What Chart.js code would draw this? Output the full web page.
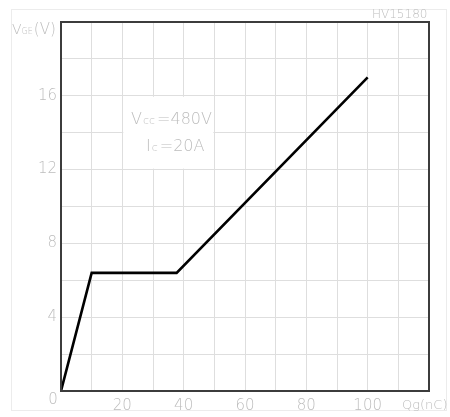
<!DOCTYPE html>
<html>
<head>
<meta charset="utf-8">
<script src="https://cdn.jsdelivr.net/npm/chart.js@4"></script>
<style>
  html, body { margin: 0; padding: 0; background: #ffffff; }
  #wrap { width: 450px; height: 417px; }
</style>
</head>
<body>
<div id="wrap"><canvas id="c" width="450" height="417"></canvas></div>
<script>
// Gate charge curve: gate-emitter voltage vs. gate charge
const gateCharge = [0, 10, 37.7, 100];      // Qg (nC)
const gateVoltage = [0, 6.4, 6.4, 17];      // VGE (V)
const xTickLabels = [20, 40, 60, 80, 100];
const yTickLabels = [4, 8, 12, 16];

const FONT = '"DejaVu Sans", "Liberation Sans", sans-serif';
const TEXT = '#bdbdbd';

// draws text pieces in sequence, each with its own size and baseline shift
function drawRuns(ctx, x, y, runs) {
  let cx = x;
  runs.forEach(r => {
    ctx.font = '200 ' + r.size + 'px ' + FONT;
    ctx.fillText(r.t, cx, y + (r.dy || 0));
    cx += ctx.measureText(r.t).width + (r.gap || 0);
  });
}

const decorations = {
  id: 'decorations',
  beforeDraw(chart) {
    const ctx = chart.ctx;
    ctx.save();
    ctx.fillStyle = '#ffffff';
    ctx.fillRect(0, 0, chart.width, chart.height);
    ctx.strokeStyle = '#ececec';
    ctx.lineWidth = 1;
    ctx.strokeRect(11.5, 9.5, 435, 401);
    ctx.restore();
  },
  beforeDatasetsDraw(chart) {
    const ctx = chart.ctx;
    const x = chart.scales.x, y = chart.scales.y;
    ctx.save();
    // white panel behind the test conditions
    const l = x.getPixelForValue(20) + 1, r = x.getPixelForValue(50) - 1;
    const t = y.getPixelForValue(16) + 1, b = y.getPixelForValue(12) - 1;
    ctx.fillStyle = '#ffffff';
    ctx.fillRect(l, t, r - l, b - t);
    ctx.fillStyle = TEXT;
    ctx.textBaseline = 'alphabetic';
    drawRuns(ctx, 131, 124, [
      { t: 'V', size: 16, gap: 1 },
      { t: 'cc', size: 11, gap: 2 },
      { t: '=480V', size: 16 }
    ]);
    drawRuns(ctx, 146, 151, [
      { t: 'I', size: 16, gap: 1 },
      { t: 'c', size: 11, gap: 2 },
      { t: '=20A', size: 16 }
    ]);
    ctx.restore();
  },
  afterDraw(chart) {
    const ctx = chart.ctx;
    const a = chart.chartArea;
    ctx.save();
    ctx.strokeStyle = '#3c3c3c';
    ctx.lineWidth = 2;
    ctx.strokeRect(a.left, a.top, a.right - a.left, a.bottom - a.top);
    ctx.fillStyle = TEXT;
    ctx.textBaseline = 'alphabetic';
    // axis titles and the origin label
    drawRuns(ctx, 12, 34, [
      { t: 'V', size: 14, gap: 0 },
      { t: 'GE', size: 8, gap: 1 },
      { t: '(V)', size: 15 }
    ]);
    drawRuns(ctx, 402, 409, [{ t: 'Qg(nC)', size: 13 }]);
    ctx.textAlign = 'center';
    drawRuns(ctx, 53, 404, [{ t: '0', size: 15 }]);
    ctx.textAlign = 'left';
    drawRuns(ctx, 372, 18, [{ t: 'HV15180', size: 12 }]);
    ctx.restore();
  }
};

new Chart(document.getElementById('c'), {
  type: 'line',
  data: {
    datasets: [{
      data: gateCharge.map((q, i) => ({ x: q, y: gateVoltage[i] })),
      borderColor: '#000000',
      borderWidth: 2.6,
      pointRadius: 0,
      tension: 0,
      fill: false
    }]
  },
  options: {
    responsive: false,
    animation: false,
    devicePixelRatio: 1,
    layout: { padding: { top: 22, right: 21, left: 0, bottom: 0 } },
    plugins: { legend: { display: false }, tooltip: { enabled: false } },
    scales: {
      x: {
        type: 'linear',
        min: 0, max: 120,
        afterFit(s) { s.height = 26; },
        border: { display: false },
        grid: { color: '#dedede', lineWidth: 1, drawTicks: false },
        ticks: {
          stepSize: 10,
          autoSkip: false,
          maxRotation: 0,
          padding: 6,
          color: TEXT,
          font: { family: FONT, size: 15, weight: '200' },
          callback: v => xTickLabels.includes(v) ? String(v) : ''
        }
      },
      y: {
        min: 0, max: 20,
        afterFit(s) { s.width = 61; },
        border: { display: false },
        grid: { color: '#dedede', lineWidth: 1, drawTicks: false },
        ticks: {
          stepSize: 2,
          autoSkip: false,
          padding: 4,
          color: TEXT,
          font: { family: FONT, size: 15, weight: '200' },
          callback: v => yTickLabels.includes(v) ? String(v) : ''
        }
      }
    }
  },
  plugins: [decorations]
});
</script>
</body>
</html>
